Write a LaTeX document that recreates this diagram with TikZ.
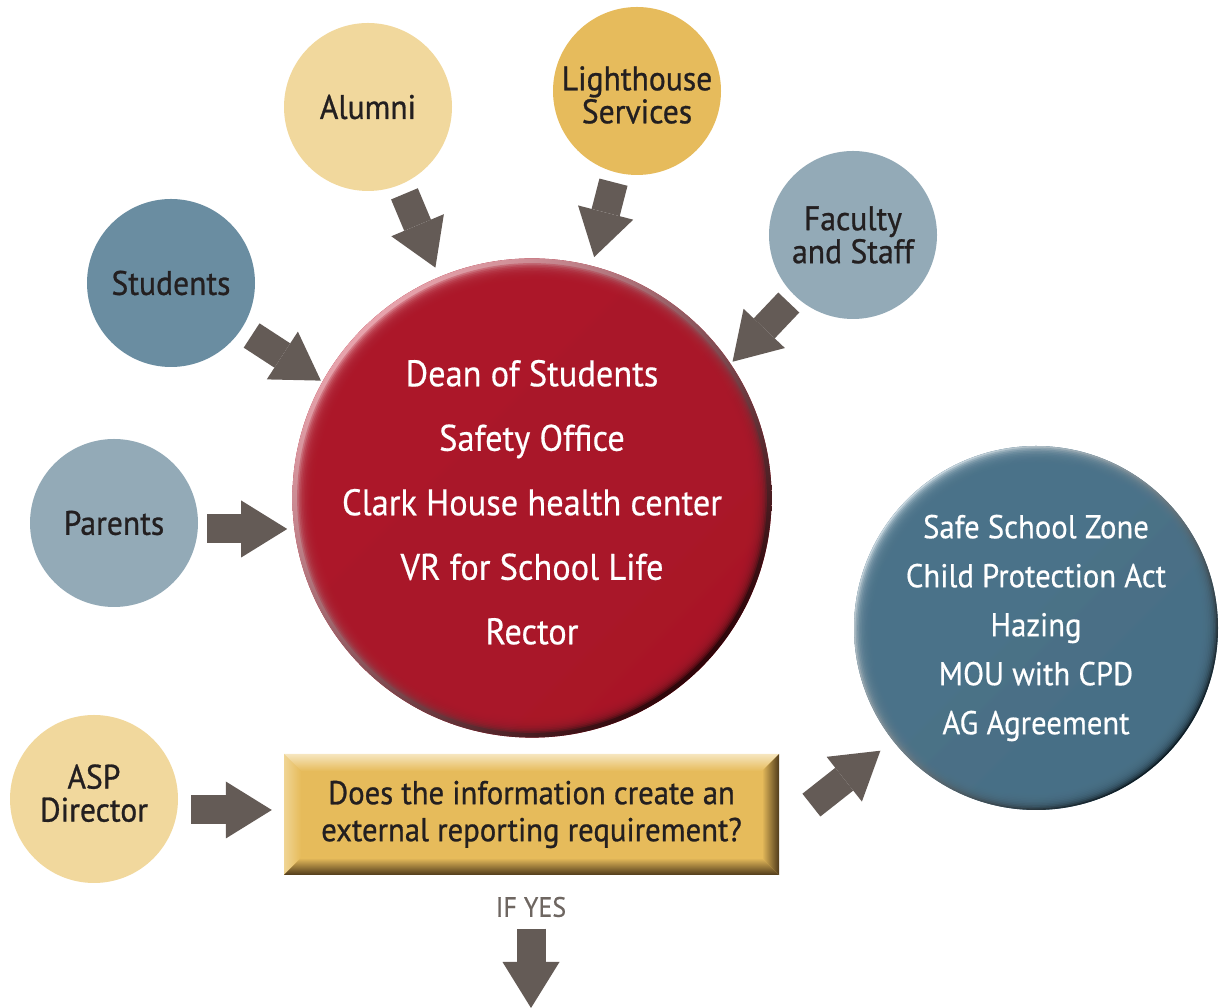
\documentclass[tikz,border=0pt]{standalone}
\usepackage{fontspec}
\setmainfont{PT Sans}
\newfontfamily\darkfont{PT Sans}[FakeBold=0.8, FakeStretch=0.93]
\newfontfamily\whitefont{PT Sans}[FakeBold=0.45, FakeStretch=0.93]
\usetikzlibrary{arrows.meta,calc}
\definecolor{arrowc}{HTML}{645B56}
\definecolor{tan}{HTML}{F1D89D}
\definecolor{gold}{HTML}{E6BB5C}
\definecolor{greyblue}{HTML}{93AAB7}
\definecolor{steel}{HTML}{6A8DA1}
\definecolor{redbase}{HTML}{AC1729}
\definecolor{redlight}{HTML}{E7A3AC}
\definecolor{reddark}{HTML}{2E0509}
\definecolor{bluebase}{HTML}{4A7289}
\definecolor{bluelight}{HTML}{C9D8E0}
\definecolor{bluedark}{HTML}{0E1C24}
\definecolor{boxbase}{HTML}{E6BB5B}
\definecolor{boxlight}{HTML}{F6E6BF}
\definecolor{boxleft}{HTML}{F0D594}
\definecolor{boxdark}{HTML}{4F3A1A}
\definecolor{textdark}{HTML}{231F20}
\definecolor{yesgrey}{HTML}{6E6661}
\tikzset{
  smallcirc/.style={circle, inner sep=0pt, minimum size=168, fill=#1, text=textdark,
    align=center, font=\darkfont\fontsize{34}{33}\selectfont},
  bevelcirc/.style n args={4}{circle, inner sep=0pt, minimum size=#1, fill=#2, text=white,
    align=center,
    path picture={
      \shade[top color=#3, middle color=#2, bottom color=#4, shading angle=45]
        (path picture bounding box.south west) rectangle (path picture bounding box.north east);
      \foreach \k in {1,...,12}{
        \fill[#2, opacity=0.3] (path picture bounding box.center) circle ({#1/2 - 1.6*\k});
      }
    }},
  bevelbox/.style={rectangle, inner sep=0pt, minimum width=495, minimum height=121,
    fill=boxbase, text=textdark, align=center,
    path picture={
      \coordinate (bxnw) at (path picture bounding box.north west);
      \coordinate (bxne) at (path picture bounding box.north east);
      \coordinate (bxsw) at (path picture bounding box.south west);
      \coordinate (bxse) at (path picture bounding box.south east);
      \shade[left color=boxleft, right color=boxbase]
        (bxnw) -- ($(bxnw)+(17,-17)$) -- ($(bxsw)+(17,17)$) -- (bxsw) -- cycle;
      \shade[top color=boxlight, bottom color=boxbase]
        (bxnw) -- (bxne) -- ($(bxne)+(-17,-17)$) -- ($(bxnw)+(17,-17)$) -- cycle;
      \shade[left color=boxbase, right color=boxdark]
        (bxne) -- (bxse) -- ($(bxse)+(-17,17)$) -- ($(bxne)+(-17,-17)$) -- cycle;
      \shade[top color=boxbase, bottom color=boxdark]
        (bxsw) -- (bxse) -- ($(bxse)+(-17,17)$) -- ($(bxsw)+(17,17)$) -- cycle;
    }},
  barrow/.style={draw=arrowc, line width=29pt,
    -{Triangle[width=57pt, length=46pt, line width=0pt]}}
}
\begin{document}
\begin{tikzpicture}[x=1pt, y=1pt]
\useasboundingbox (0,0) rectangle (1220,1008);

% main circles
\node[bevelcirc={473}{redbase}{redlight}{reddark},
      font=\whitefont\fontsize{37}{64.5}\selectfont] (red) at (532,510)
  {\rule{0pt}{35pt}Dean of Students\\Safety Office\\Clark House health center\\VR for School Life\\Rector};
\node[bevelcirc={364}{bluebase}{bluelight}{bluedark},
      font=\whitefont\fontsize{33}{49}\selectfont] (blue) at (1036,380)
  {Safe School Zone\\Child Protection Act\\Hazing\\MOU with CPD\\AG Agreement};

% source circles
\node[smallcirc=tan] (alumni) at (368,901) {Alumni};
\node[smallcirc=gold] (light) at (637,917) {\rule{0pt}{32pt}Lighthouse\\Services};
\node[smallcirc=greyblue] (faculty) at (853,773) {Faculty\\and Staff};
\node[smallcirc=steel] (students) at (171,725) {Students};
\node[smallcirc=greyblue] (parents) at (114,485) {Parents};
\node[smallcirc=tan] (asp) at (94,209) {ASP\\Director\rule[-12pt]{0pt}{12pt}};

% decision box
\node[bevelbox, font=\darkfont\fontsize{33}{37}\selectfont] (box) at (531.5,193.5)
  {Does the information create an\\external reporting requirement?};

\node[text=yesgrey, font=\whitefont\fontsize{28}{28}\selectfont] (ifyes) at (531,101) {IF YES};
\coordinate (yesend) at (531,0);

% arrows
\draw[barrow, shorten <=10pt, shorten >=10pt] (alumni) -- (red);
\draw[barrow, shorten <=10pt, shorten >=9pt] (light) -- (red);
\draw[barrow, shorten <=12pt, shorten >=215pt] (students) -- ([xshift=-31pt]red.center);
\draw[barrow, shorten <=9pt, shorten >=188pt] (faculty) -- ([xshift=71pt]red.center);
\draw[barrow, shorten <=9pt, shorten >=5pt] ([yshift=-6pt]parents.east) -- ([yshift=-6pt]parents.east -| red.west);
\draw[barrow, shorten <=13pt, shorten >=12pt] ([yshift=-11pt]asp.east) -- ([yshift=-11pt]asp.east -| box.west);
\draw[barrow, shorten <=41pt, shorten >=16pt] ([yshift=-16pt]box.east) -- (blue);
\draw[barrow, shorten <=8pt] (ifyes.south) -- (yesend);
\end{tikzpicture}
\end{document}
